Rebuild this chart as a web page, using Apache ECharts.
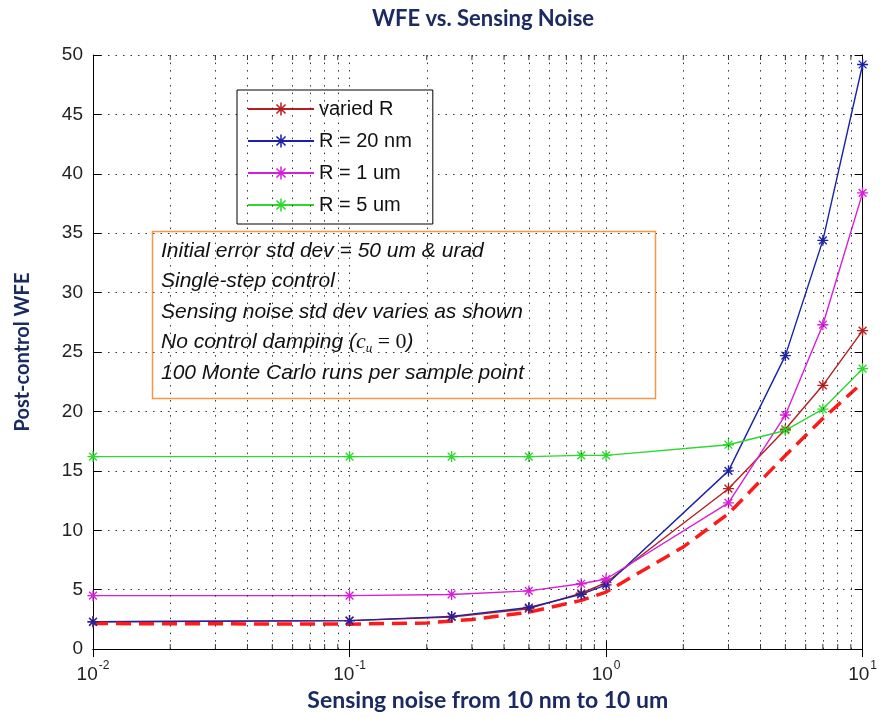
<!DOCTYPE html>
<html>
<head>
<meta charset="utf-8">
<script src="https://cdn.jsdelivr.net/npm/echarts@6/dist/echarts.min.js"></script>
<style>
html,body{margin:0;padding:0;background:#fff;}
#main{width:880px;height:717px;}
</style>
</head>
<body>
<div id="main"></div>
<script>
// sample points (sensing noise, um)
var noiseX = [0.01, 0.1, 0.25, 0.5, 0.8, 1, 3, 5, 7, 10];
var variedR = [2.3, 2.4, 2.7, 3.4, 4.7, 5.6, 13.5, 18.5, 22.2, 26.8];
var r20nm = [2.3, 2.4, 2.75, 3.5, 4.6, 5.4, 15.0, 24.7, 34.4, 49.2];
var r1um = [4.5, 4.5, 4.6, 4.9, 5.5, 5.9, 12.3, 19.7, 27.3, 38.4];
var r5um = [16.2, 16.2, 16.2, 16.2, 16.3, 16.3, 17.2, 18.4, 20.2, 23.6];
// red dashed lower curve
var boundX = [0.01, 0.1, 0.2, 0.3, 0.5, 0.8, 1, 2, 3, 5, 7, 9.5];
var boundY = [2.15, 2.1, 2.2, 2.5, 3.1, 4.1, 4.8, 8.6, 11.4, 16.3, 19.4, 22.0];

var seriesNames = ['varied R', 'R = 20 nm', 'R = 1 um', 'R = 5 um'];
var seriesColors = ['#b81e1e', '#1a22a8', '#d81ed8', '#2ed82e'];
var yMin = 0, yMax = 50, yStep = 5;
var xMin = 0.01, xMax = 10;
var decades = [0.01, 0.1, 1];
var noteLines = [
    'Initial error std dev = 50 um & urad',
    'Single-step control',
    'Sensing noise std dev varies as shown',
    'No control damping ({c|c}{u|u}{e| = 0})',
    '100 Monte Carlo runs per sample point'
];

var navy = '#1b2a63';
var star = 'path://M-0.12,-1L0.12,-1L0.12,1L-0.12,1Z M1,-0.12L1,0.12L-1,0.12L-1,-0.12Z M0.622,-0.792L0.792,-0.622L-0.622,0.792L-0.792,0.622Z M-0.792,-0.622L-0.622,-0.792L0.792,0.622L0.622,0.792Z';

function pairs(xs, ys) {
    var out = [];
    for (var i = 0; i < xs.length; i++) {
        out.push([xs[i], ys[i]]);
    }
    return out;
}

// minor log positions 2..9 per decade
var minorX = [];
for (var d = 0; d < decades.length; d++) {
    for (var k = 2; k <= 9; k++) {
        minorX.push(+(decades[d] * k).toFixed(4));
    }
}

var chart = echarts.init(document.getElementById('main'));

var allData = [variedR, r20nm, r1um, r5um];
var series = [];
for (var s = 0; s < seriesNames.length; s++) {
    series.push({
        name: seriesNames[s],
        type: 'line',
        data: pairs(noiseX, allData[s]),
        symbol: star,
        symbolSize: 11,
        showAllSymbol: true,
        clip: false,
        lineStyle: {color: seriesColors[s], width: 1.4},
        itemStyle: {color: seriesColors[s]}
    });
}
series.push({
    name: 'bound',
    type: 'line',
    data: pairs(boundX, boundY),
    showSymbol: false,
    symbol: 'none',
    lineStyle: {color: '#ff1a1a', width: 3.5, type: [15, 8]},
    z: 3
});
// minor ticks (bottom / top) + minor vertical grid lines
var tickBottom = [], tickTop = [];
for (var m = 0; m < minorX.length; m++) {
    tickBottom.push([minorX[m], yMin]);
    tickTop.push([minorX[m], yMax]);
}
series.push({
    name: 'minorBottom',
    type: 'scatter',
    data: tickBottom,
    symbol: 'rect',
    symbolSize: [1, 5],
    symbolOffset: [0, -2.5],
    clip: false,
    silent: true,
    itemStyle: {color: '#000'},
    markLine: {
        silent: true,
        symbol: ['none', 'none'],
        label: {show: false},
        lineStyle: {type: [1.5, 6], color: '#333', width: 1},
        data: minorX.map(function (v) { return {xAxis: v}; })
    }
});
series.push({
    name: 'minorTop',
    type: 'scatter',
    data: tickTop,
    symbol: 'rect',
    symbolSize: [1, 5],
    symbolOffset: [0, 2.5],
    clip: false,
    silent: true,
    itemStyle: {color: '#000'}
});

var xLabelRich = {
    b: {fontSize: 19, fontFamily: 'Liberation Sans', color: '#222', padding: [10, 0, 0, 0]},
    s: {fontSize: 12, fontFamily: 'Liberation Sans', color: '#222', padding: [0, 0, 8, 1]}
};

var option = {
    animation: false,
    backgroundColor: '#fff',
    title: {
        text: 'WFE vs. Sensing Noise',
        left: 478,
        top: 3,
        textAlign: 'center',
        textStyle: {fontFamily: 'Lato', fontWeight: 'bold', fontSize: 22, color: navy}
    },
    legend: {
        data: seriesNames,
        orient: 'vertical',
        left: 237,
        top: 90,
        backgroundColor: '#fff',
        borderColor: '#000',
        borderWidth: 1,
        padding: [9, 21, 9, 10],
        itemGap: 12,
        itemWidth: 66,
        itemHeight: 16,
        textStyle: {fontFamily: 'Liberation Sans', fontSize: 20, color: '#111'}
    },
    grid: {left: 93, right: 16, top: 55, bottom: 62},
    xAxis: [{
        type: 'log',
        logBase: 10,
        min: xMin,
        max: xMax,
        name: 'Sensing noise from 10 nm to 10 um',
        nameLocation: 'middle',
        nameGap: 36,
        nameTextStyle: {fontFamily: 'Lato', fontWeight: 'bold', fontSize: 23, color: navy, padding: [0, 0, 0, 20]},
        axisLine: {lineStyle: {color: '#000', width: 1}},
        axisTick: {inside: true, length: 8, lineStyle: {color: '#000'}},
        axisLabel: {
            margin: 6,
            formatter: function (v) {
                var e = Math.round(Math.log(v) / Math.LN10);
                return '{b|10}{s|' + e + '}';
            },
            rich: xLabelRich
        },
        splitLine: {show: true, lineStyle: {type: [1.5, 6], color: '#333', width: 1}}
    }, {
        type: 'log',
        logBase: 10,
        min: xMin,
        max: xMax,
        position: 'top',
        axisLine: {lineStyle: {color: '#000', width: 1}},
        axisTick: {inside: true, length: 8, lineStyle: {color: '#000'}},
        axisLabel: {show: false},
        splitLine: {show: false}
    }],
    yAxis: [{
        type: 'value',
        min: yMin,
        max: yMax,
        interval: yStep,
        name: 'Post-control WFE',
        nameLocation: 'middle',
        nameGap: 60,
        nameTextStyle: {fontFamily: 'Lato', fontWeight: 'bold', fontSize: 20, color: navy},
        axisLine: {show: true, lineStyle: {color: '#000', width: 1}},
        axisTick: {show: true, inside: true, length: 8, lineStyle: {color: '#000'}},
        axisLabel: {fontFamily: 'Liberation Sans', fontSize: 19, color: '#222', margin: 10},
        splitLine: {show: true, lineStyle: {type: [1.5, 6], color: '#333', width: 1}}
    }, {
        type: 'value',
        min: yMin,
        max: yMax,
        interval: yStep,
        position: 'right',
        axisLine: {show: true, lineStyle: {color: '#000', width: 1}},
        axisTick: {show: true, inside: true, length: 8, lineStyle: {color: '#000'}},
        axisLabel: {show: false},
        splitLine: {show: false}
    }],
    series: series,
    graphic: []
};

// annotation box
option.graphic.push({
    type: 'rect',
    left: 150,
    top: 229,
    shape: {width: 503, height: 167},
    style: {fill: 'none', stroke: '#f79646', lineWidth: 1.5},
    z: 10
});
for (var t = 0; t < noteLines.length; t++) {
    option.graphic.push({
        type: 'text',
        x: 161,
        y: 251 + t * 30.5,
        z: 10,
        style: {
            text: noteLines[t],
            fontFamily: 'Liberation Sans',
            fontStyle: 'italic',
            fontSize: 21,
            fill: '#111',
            verticalAlign: 'middle',
            rich: {
                c: {fontFamily: 'Liberation Serif', fontStyle: 'italic', fontSize: 22, fill: '#111'},
                u: {fontFamily: 'Liberation Serif', fontStyle: 'italic', fontSize: 13, fill: '#111', padding: [12, 0, 0, 0]},
                e: {fontFamily: 'Liberation Serif', fontSize: 22, fill: '#111'}
            }
        }
    });
}

chart.setOption(option);
</script>
</body>
</html>
